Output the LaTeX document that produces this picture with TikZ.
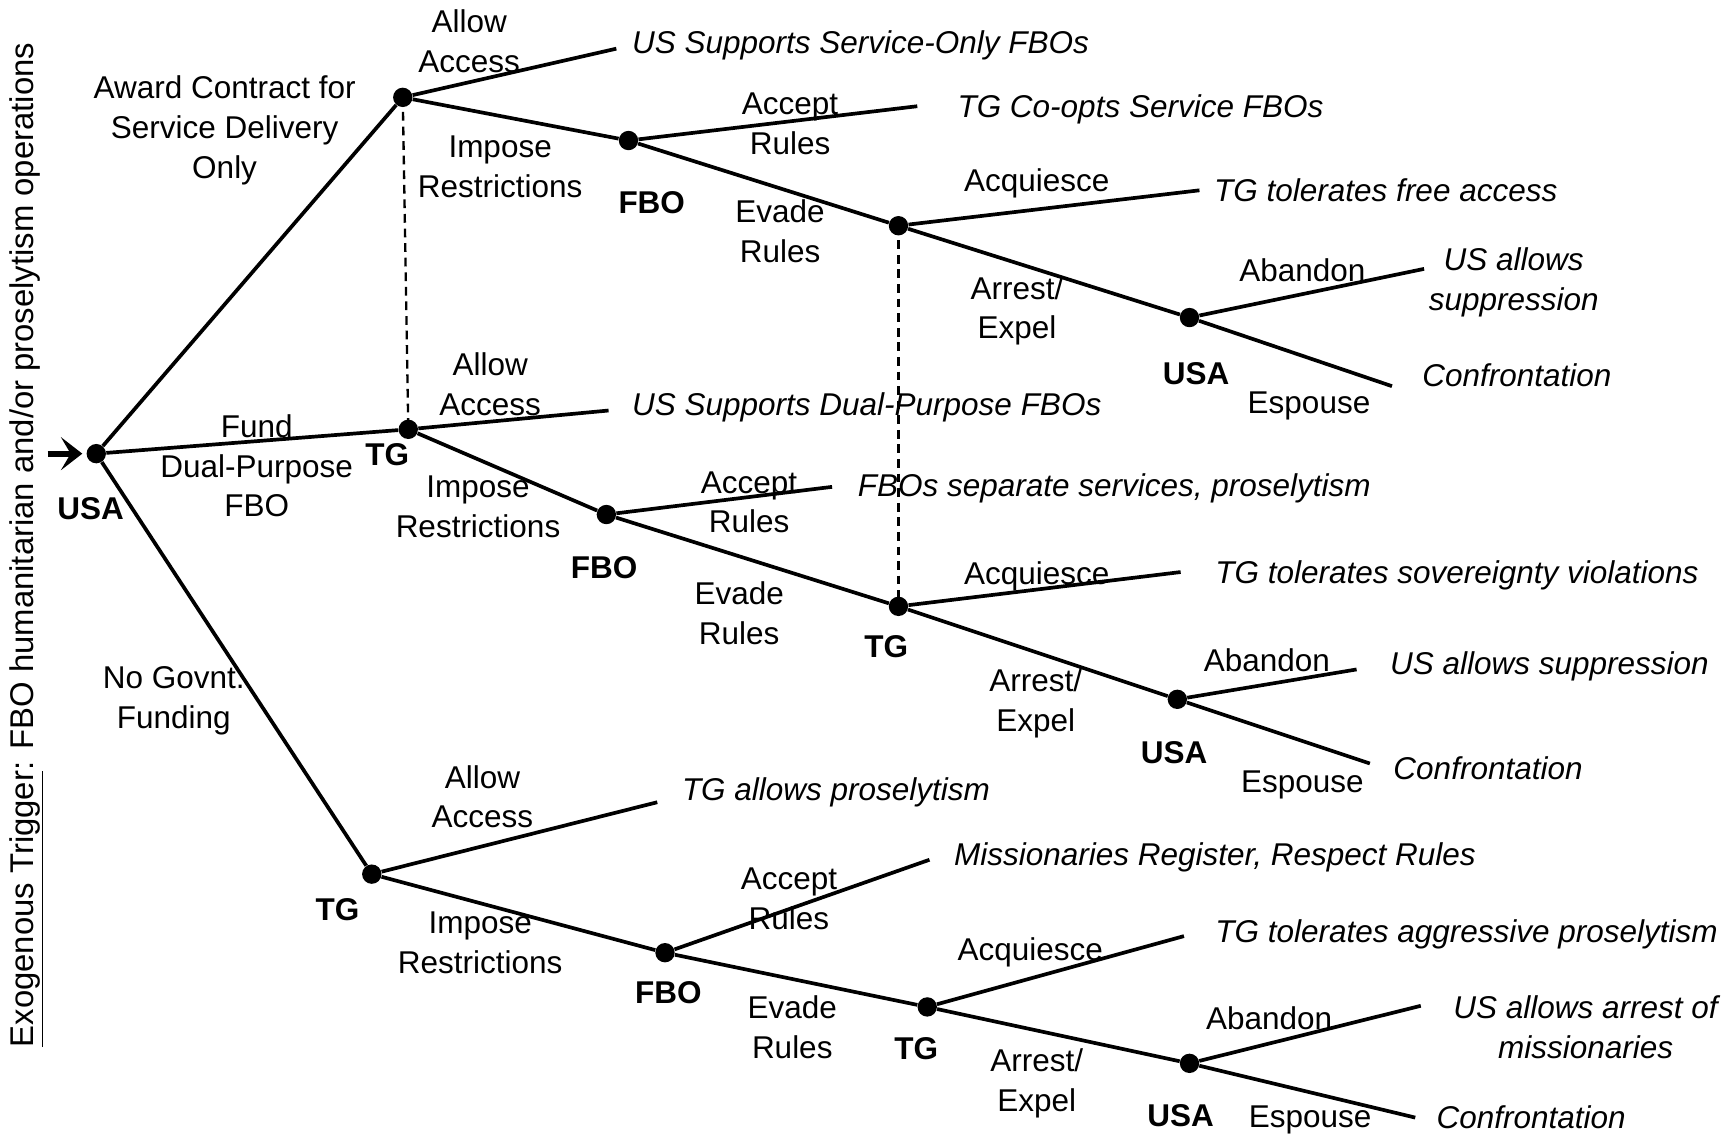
\documentclass[tikz,border=0pt]{standalone}
\usepackage{fontspec}
\setmainfont{Liberation Sans}
\usetikzlibrary{arrows.meta}
\tikzset{
  dot/.style={circle,fill=black,inner sep=0pt,minimum size=0.35cm},
  lbl/.style={align=center,inner sep=0pt,font=\fontsize{16.2pt}{20.5pt}\selectfont},
  outc/.style={align=center,inner sep=0pt,font=\fontsize{16.2pt}{20.5pt}\selectfont\itshape},
  plr/.style={inner sep=0pt,font=\fontsize{16.2pt}{20.5pt}\selectfont\bfseries},
  br/.style={line width=1.9pt},
  info/.style={line width=1.2pt,dash pattern=on 4.5pt off 3pt},
  trigarrow/.style={line width=3pt,shorten >=2pt,arrows={-Stealth[length=11pt,width=17pt,inset=5pt]}},
}
\begin{document}
\begin{tikzpicture}[x=0.02cm,y=-0.02cm]
\useasboundingbox (0,0) rectangle (1568,1027);
% decision nodes
\node[dot] (R) at (87,410) {};
\node[dot] (A) at (364,88) {};
\node[dot] (B) at (369,388) {};
\node[dot] (C) at (336,790) {};
\node[dot] (D) at (568,127) {};
\node[dot] (E) at (812,204) {};
\node[dot] (F) at (1075,287) {};
\node[dot] (G) at (548,465) {};
\node[dot] (H) at (812,548) {};
\node[dot] (I) at (1064,632) {};
\node[dot] (J) at (601,861) {};
\node[dot] (K) at (838,910) {};
\node[dot] (L) at (1075,961) {};
% free ends
\coordinate (s0) at (43,410);
\coordinate (a1) at (557,44);
\coordinate (d1) at (829,96);
\coordinate (e1) at (1084,172);
\coordinate (f1) at (1287,243);
\coordinate (f2) at (1258,349);
\coordinate (b1) at (550,371);
\coordinate (g1) at (752,440);
\coordinate (h1) at (1067,517);
\coordinate (i1) at (1226,605);
\coordinate (i2) at (1238,690);
\coordinate (c1) at (594,725);
\coordinate (j1) at (840,777);
\coordinate (k1) at (1070,846);
\coordinate (l1) at (1284,909);
\coordinate (l2) at (1279,1010);
% branches
\draw[trigarrow] (s0) -- (R);
\draw[br] (R) -- (A);
\draw[br] (R) -- (B);
\draw[br] (R) -- (C);
\draw[br] (A) -- (a1);
\draw[br] (A) -- (D);
\draw[br] (D) -- (d1);
\draw[br] (D) -- (E);
\draw[br] (E) -- (e1);
\draw[br] (E) -- (F);
\draw[br] (F) -- (f1);
\draw[br] (F) -- (f2);
\draw[br] (B) -- (b1);
\draw[br] (B) -- (G);
\draw[br] (G) -- (g1);
\draw[br] (G) -- (H);
\draw[br] (H) -- (h1);
\draw[br] (H) -- (I);
\draw[br] (I) -- (i1);
\draw[br] (I) -- (i2);
\draw[br] (C) -- (c1);
\draw[br] (C) -- (J);
\draw[br] (J) -- (j1);
\draw[br] (J) -- (K);
\draw[br] (K) -- (k1);
\draw[br] (K) -- (L);
\draw[br] (L) -- (l1);
\draw[br] (L) -- (l2);
% information sets
\draw[info] (A.center) -- (B.center);
\draw[info] (E.center) -- (H.center);
% side text
\node[lbl,rotate=90,font=\fontsize{16.9pt}{20.5pt}\selectfont] (trig) at (24,492.5) {\underline{Exogenous Trigger}: FBO humanitarian and/or proselytism operations};
% players
\node[plr] (pR) at (82,460) {USA};
\node[plr] (pB) at (350,411) {TG};
\node[plr] (pC) at (305,822) {TG};
\node[plr] (pD) at (589,183) {FBO};
\node[plr] (pF) at (1081,338) {USA};
\node[plr] (pG) at (546,513) {FBO};
\node[plr] (pH) at (801,584) {TG};
\node[plr] (pI) at (1061,680) {USA};
\node[plr] (pJ) at (604,897) {FBO};
\node[plr] (pK) at (828,948) {TG};
\node[plr] (pL) at (1067,1008) {USA};
% action labels
\node[lbl] (lRA) at (203,118) {Award Contract for\\Service Delivery\\Only};
\node[lbl] (lRB) at (232,421) {Fund\\Dual-Purpose\\FBO};
\node[lbl] (lRC) at (157,633) {No Govnt.\\Funding};
\node[lbl] (lA1) at (424,37) {Allow\\Access};
\node[lbl] (lAD) at (452,151) {Impose\\Restrictions};
\node[lbl] (lD1) at (714,112) {Accept\\Rules};
\node[lbl] (lDE) at (705,209) {Evade\\Rules};
\node[lbl] (lE1) at (937,166) {Acquiesce};
\node[lbl] (lEF) at (919,281) {Arrest/\\Expel};
\node[lbl] (lF1) at (1177,244) {Abandon};
\node[lbl] (lF2) at (1183,367) {Espouse};
\node[lbl] (lB1) at (443,347) {Allow\\Access};
\node[lbl] (lBG) at (432,458) {Impose\\Restrictions};
\node[lbl] (lG1) at (677,454) {Accept\\Rules};
\node[lbl] (lGH) at (668,554) {Evade\\Rules};
\node[lbl] (lH1) at (937,521) {Acquiesce};
\node[lbl] (lHI) at (936,636) {Arrest/\\Expel};
\node[lbl] (lI1) at (1145,597) {Abandon};
\node[lbl] (lI2) at (1177,709) {Espouse};
\node[lbl] (lC1) at (436,720) {Allow\\Access};
\node[lbl] (lCJ) at (434,852) {Impose\\Restrictions};
\node[lbl] (lJ1) at (713,812) {Accept\\Rules};
\node[lbl] (lJK) at (716,928) {Evade\\Rules};
\node[lbl] (lK1) at (931,861) {Acquiesce};
\node[lbl] (lKL) at (937,979) {Arrest/\\Expel};
\node[lbl] (lL1) at (1147,920) {Abandon};
\node[lbl] (lL2) at (1184,1012) {Espouse};
% outcomes
\node[outc,anchor=west] (o1) at (571,41) {US Supports Service-Only FBOs};
\node[outc,anchor=west] (o2) at (865,99) {TG Co-opts Service FBOs};
\node[outc,anchor=west] (o3) at (1097,172) {TG tolerates free access};
\node[outc] (o4) at (1368,255) {US allows\\suppression};
\node[outc,anchor=west] (o5) at (1285,339) {Confrontation};
\node[outc,anchor=west] (o6) at (571,368) {US Supports Dual-Purpose FBOs};
\node[outc,anchor=west] (o7) at (775,441) {FBOs separate services, proselytism};
\node[outc,anchor=west] (o8) at (1098,520) {TG tolerates sovereignty violations};
\node[outc,anchor=west] (o9) at (1256,602) {US allows suppression};
\node[outc,anchor=west] (o10) at (1259,694) {Confrontation};
\node[outc,anchor=west] (o11) at (616,716) {TG allows proselytism};
\node[outc,anchor=west] (o12) at (862,775) {Missionaries Register, Respect Rules};
\node[outc,anchor=west] (o13) at (1098,844) {TG tolerates aggressive proselytism};
\node[outc] (o14) at (1433,928) {US allows arrest of\\missionaries};
\node[outc,anchor=west] (o15) at (1298,1010) {Confrontation};
\end{tikzpicture}
\end{document}
